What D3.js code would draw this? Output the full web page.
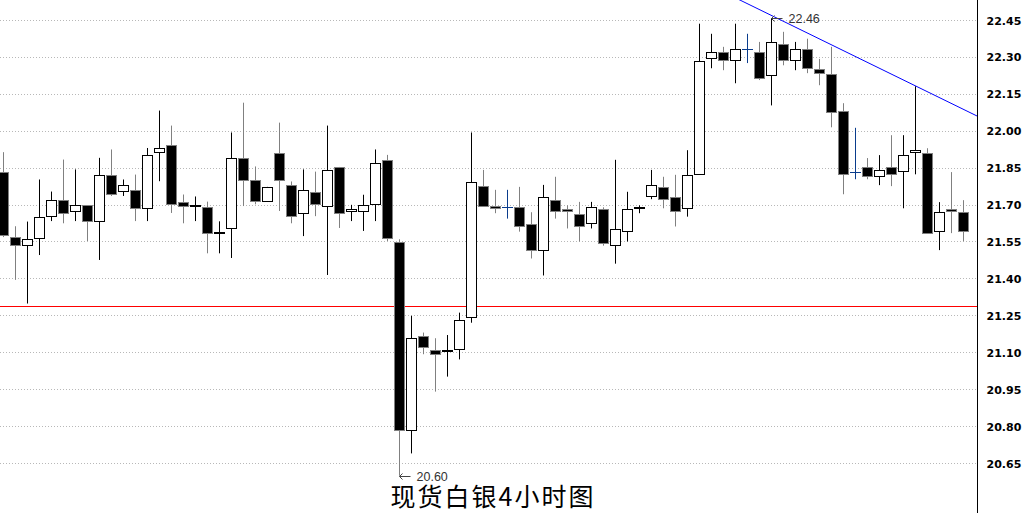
<!DOCTYPE html>
<html><head><meta charset="utf-8">
<script src="https://cdn.jsdelivr.net/npm/d3@7"></script>
<style>html,body{margin:0;padding:0;background:#fff;overflow:hidden}</style>
</head><body>
<svg id="chart" width="1026" height="513"></svg>
<script>
const openP  = [21.835,21.572,21.539,21.568,21.657,21.722,21.677,21.700,21.637,21.823,21.758,21.762,21.689,21.916,21.945,21.714,21.699,21.693,21.590,21.608,21.892,21.803,21.718,21.912,21.782,21.669,21.754,21.697,21.855,21.677,21.677,21.705,21.884,21.549,20.786,21.170,21.111,21.108,21.114,21.244,21.779,21.698,21.691,21.691,21.622,21.516,21.720,21.684,21.663,21.626,21.683,21.537,21.594,21.688,21.736,21.773,21.732,21.687,21.827,22.297,22.321,22.289,22.334,22.321,22.228,22.354,22.289,22.334,22.252,22.232,22.082,21.834,21.854,21.819,21.854,21.838,21.915,21.911,21.594,21.683,21.671];
const highP  = [21.915,21.614,21.633,21.804,21.755,21.885,21.845,21.700,21.892,21.926,21.804,21.824,21.932,22.084,22.023,21.743,21.735,21.714,21.634,21.995,22.116,21.857,21.774,22.035,21.796,21.845,21.836,22.023,21.855,21.701,21.742,21.926,21.904,21.561,21.250,21.182,21.159,21.172,21.263,21.995,21.843,21.762,21.762,21.774,21.671,21.782,21.815,21.699,21.713,21.713,21.691,21.884,21.754,21.699,21.843,21.815,21.823,21.923,22.437,22.396,22.343,22.437,22.396,22.363,22.460,22.404,22.363,22.376,22.294,22.343,22.114,22.014,21.891,21.903,21.984,21.984,22.183,21.931,21.712,21.834,21.720];
const lowP   = [21.570,21.396,21.300,21.497,21.635,21.626,21.635,21.554,21.477,21.737,21.737,21.635,21.635,21.797,21.668,21.626,21.635,21.504,21.504,21.485,21.696,21.703,21.718,21.676,21.626,21.574,21.655,21.416,21.607,21.635,21.595,21.635,21.554,20.600,20.691,21.094,20.942,21.003,21.073,21.222,21.695,21.667,21.645,21.592,21.483,21.414,21.645,21.605,21.552,21.605,21.535,21.462,21.552,21.667,21.724,21.687,21.613,21.653,21.827,22.256,22.248,22.195,22.277,22.208,22.105,22.268,22.248,22.236,22.187,22.016,21.744,21.805,21.805,21.781,21.777,21.687,21.825,21.586,21.517,21.586,21.553];
const closeP = [21.577,21.539,21.564,21.653,21.722,21.669,21.700,21.637,21.823,21.746,21.782,21.689,21.904,21.932,21.705,21.697,21.701,21.588,21.592,21.892,21.800,21.718,21.774,21.800,21.657,21.762,21.705,21.843,21.669,21.685,21.701,21.871,21.568,20.786,21.159,21.124,21.095,21.112,21.232,21.793,21.695,21.687,21.691,21.613,21.516,21.732,21.675,21.675,21.613,21.691,21.545,21.602,21.683,21.692,21.781,21.724,21.675,21.821,22.285,22.321,22.289,22.334,22.334,22.216,22.362,22.289,22.334,22.256,22.236,22.077,21.827,21.834,21.819,21.842,21.827,21.903,21.923,21.586,21.671,21.675,21.594];
const yTicks = ["20.65","20.80","20.95","21.10","21.25","21.40","21.55","21.70","21.85","22.00","22.15","22.30","22.45"];
const supportLevel = [21.29];
const trendIdx = [61.375, 81.125];
const trendVal = [22.533, 22.062];
const markIdx = [64, 33];
const markVal = ["22.46", "20.60"];
const title = ["现货白银4小时图"];

const svg = d3.select("#chart");
const W = 1026, H = 513, axisX = 977;
const n = openP.length;
const x = d3.scaleLinear().domain([0, n - 1]).range([3.5, 963.5]);
const y = d3.scaleLinear().domain([20.65, 22.45]).range([463.5, 20.5]);

const defs = svg.append("defs");
defs.append("clipPath").attr("id", "plot").append("rect")
  .attr("x", 0).attr("y", 0).attr("width", axisX).attr("height", H);

// gridlines
svg.append("g").selectAll("line").data(yTicks).join("line")
  .attr("x1", 0).attr("x2", axisX)
  .attr("y1", d => Math.round(y(+d) - 0.5) + 0.5)
  .attr("y2", d => Math.round(y(+d) - 0.5) + 0.5)
  .attr("stroke", "#b8b8b8").attr("stroke-width", 1)
  .attr("stroke-dasharray", "1,2");

// y axis on right
const yAxis = d3.axisRight(y).tickValues(yTicks.map(Number))
  .tickFormat(d3.format(".2f")).tickSize(0).tickPadding(9);
const ag = svg.append("g").attr("transform", `translate(${axisX + 0.5},0)`).call(yAxis);
ag.select(".domain").remove();
ag.append("line").attr("x1", 0).attr("x2", 0).attr("y1", 0).attr("y2", H)
  .attr("stroke", "#000").attr("stroke-width", 1);
ag.selectAll("text").attr("fill", "#000")
  .attr("font-family", "'DejaVu Sans', sans-serif").attr("font-weight", "bold")
  .attr("font-size", 11);

const plot = svg.append("g").attr("clip-path", "url(#plot)");

// red support line
plot.selectAll(".sup").data(supportLevel).join("line")
  .attr("x1", 0).attr("x2", axisX)
  .attr("y1", d => Math.round(y(d)) + 0.5).attr("y2", d => Math.round(y(d)) + 0.5)
  .attr("stroke", "#ff0000").attr("stroke-width", 1);

// candles
const data = d3.range(n).map(i => ({i, o: openP[i], h: highP[i], l: lowP[i], c: closeP[i]}));
const cg = plot.append("g").selectAll("g").data(data).join("g");
cg.each(function(d) {
  const g = d3.select(this);
  const cx = Math.floor(x(d.i));
  const up = d.c > d.o, doji = d.c === d.o;
  const wickCol = doji ? "#0a3c8c" : (up ? "#000" : "#808080");
  g.append("line").attr("x1", cx + 0.5).attr("x2", cx + 0.5)
    .attr("y1", y(d.h)).attr("y2", y(d.l)).attr("stroke", wickCol).attr("stroke-width", 1);
  if (doji) {
    const yy = Math.round(y(d.o)) + 0.5;
    g.append("line").attr("x1", cx - 5).attr("x2", cx + 6).attr("y1", yy).attr("y2", yy)
      .attr("stroke", wickCol).attr("stroke-width", 1);
  } else {
    const top = Math.round(y(Math.max(d.o, d.c))) + 0.5;
    const bot = Math.round(y(Math.min(d.o, d.c))) + 0.5;
    g.append("rect").attr("x", cx - 4.5).attr("width", 10)
      .attr("y", top).attr("height", Math.max(bot - top, 1))
      .attr("fill", up ? "#fff" : "#000")
      .attr("stroke", up ? "#000" : "#808080").attr("stroke-width", 1);
  }
});

// trend line (extended across the plot)
const slope = (y(trendVal[1]) - y(trendVal[0])) / (x(trendIdx[1]) - x(trendIdx[0]));
const x0 = x(trendIdx[0]), y0 = y(trendVal[0]);
plot.append("line")
  .attr("x1", x0 - 50).attr("y1", y0 - 50 * slope)
  .attr("x2", axisX + 20).attr("y2", y0 + (axisX + 20 - x0) * slope)
  .attr("stroke", "#0000ff").attr("stroke-width", 1);

// high/low markers
markIdx.forEach((idx, k) => {
  const cx = Math.floor(x(idx)) + 0.5;
  const yy = Math.round(y(+markVal[k])) + 0.5;
  const g = plot.append("g");
  g.append("line").attr("x1", cx).attr("x2", cx + 11).attr("y1", yy).attr("y2", yy)
    .attr("stroke", "#444").attr("stroke-width", 1);
  g.append("path").attr("d", `M${cx + 3},${yy - 3}L${cx},${yy}L${cx + 3},${yy + 3}`)
    .attr("fill", "none").attr("stroke", "#444").attr("stroke-width", 1);
  g.append("text").attr("x", cx + 17).attr("y", yy).attr("dy", "0.35em")
    .attr("font-family", "'Liberation Sans', Arial, sans-serif").attr("font-size", 12.5)
    .attr("fill", "#333").text(markVal[k]);
});

// title
svg.append("text").attr("x", 493).attr("y", 497).attr("dy", "0.35em")
  .attr("text-anchor", "middle")
  .attr("font-family", "'Noto Sans CJK SC', sans-serif").attr("font-size", 25)
  .attr("letter-spacing", 2).attr("fill", "#000").text(title[0]);
</script>
</body></html>
